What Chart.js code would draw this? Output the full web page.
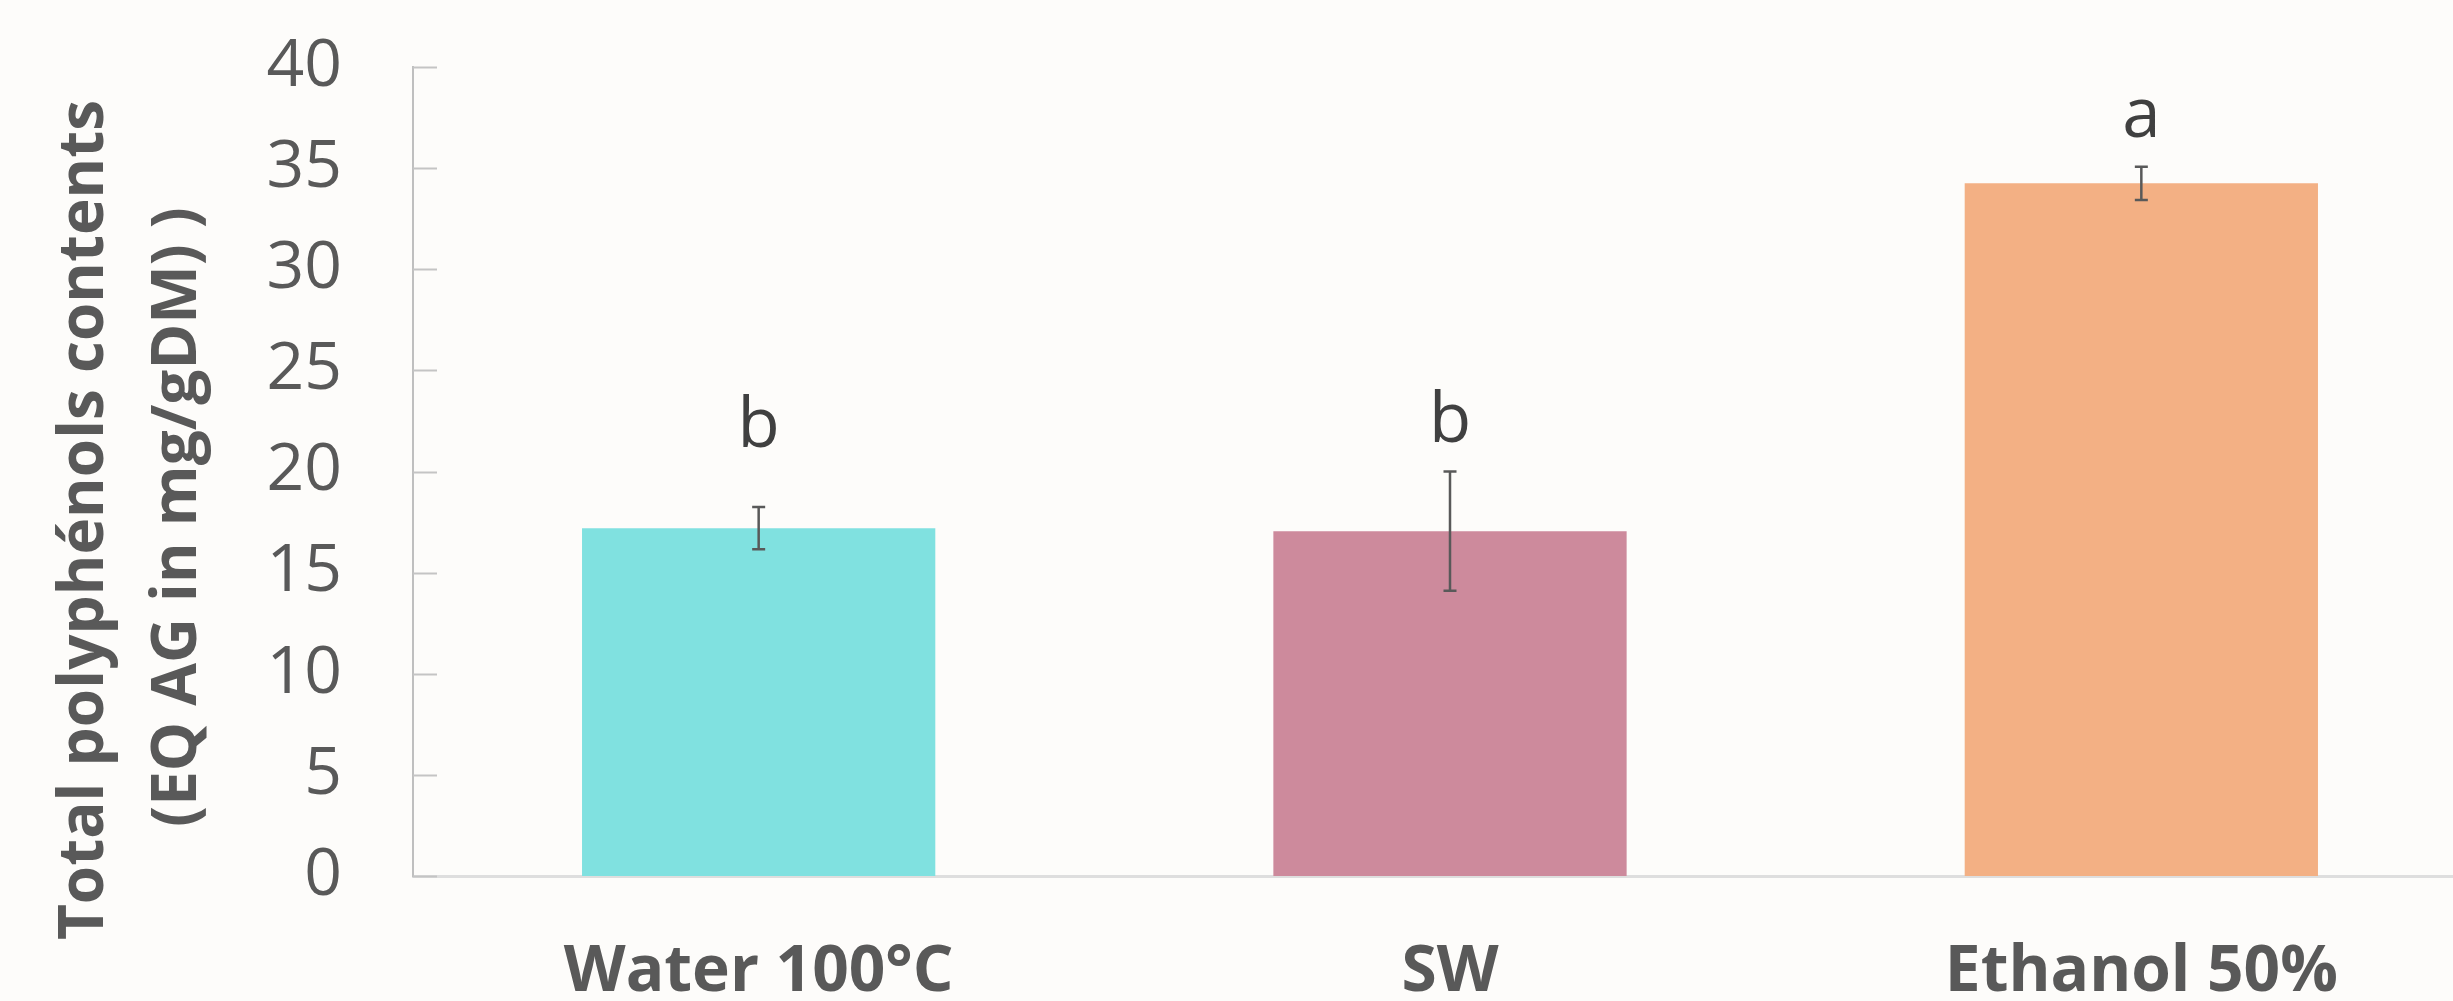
<!DOCTYPE html>
<html>
<head>
<meta charset="utf-8">
<script src="https://cdn.jsdelivr.net/npm/chart.js@4.4.1/dist/chart.umd.min.js"></script>
<style>
  html,body{margin:0;padding:0;background:#fdfcfa;overflow:hidden;}
  #wrap{position:absolute;left:0;top:0;width:2487px;height:1001px;}
</style>
</head>
<body>
<div id="wrap"><canvas id="c"></canvas></div>
<script>
// data
const categories = ['Water 100°C', 'SW', 'Ethanol 50%'];
const means = [17.2, 17.05, 34.25];
const errors = [1.05, 2.95, 0.82];
const letters = ['b', 'b', 'a'];
const letterLevel = [21.2, 21.45, 36.55]; // baseline of the letter, in y units
const barColors = ['#80e1e0', '#cd8a9c', '#f3b084'];
const yTicks = [0, 5, 10, 15, 20, 25, 30, 35, 40];
const titleLines = ['Total polyphénols contents', '(EQ AG in mg/gDM) )'];

const GREY = '#595959';

// short tick marks pointing into the plot, like the original
const innerTicks = {
  id:'innerTicks',
  afterDraw(chart){
    const y=chart.scales.y, ctx=chart.ctx, left=chart.chartArea.left;
    ctx.save();
    ctx.strokeStyle='#c4c4c4';ctx.lineWidth=2;
    yTicks.forEach(v=>{
      const py=Math.round(y.getPixelForValue(v))+0.5;
      ctx.beginPath();ctx.moveTo(left,py);ctx.lineTo(left+24,py);ctx.stroke();
    });
    ctx.restore();
  }
};

const errorBars = {
  id:'errorBars',
  afterDatasetsDraw(chart){
    const meta=chart.getDatasetMeta(0), y=chart.scales.y, ctx=chart.ctx;
    ctx.save();
    ctx.strokeStyle=GREY;ctx.lineWidth=2.5;
    meta.data.forEach((bar,i)=>{
      const top=y.getPixelForValue(means[i]+errors[i]);
      const bot=y.getPixelForValue(means[i]-errors[i]);
      const x=bar.x, cap=6.5;
      ctx.beginPath();
      ctx.moveTo(x,top);ctx.lineTo(x,bot);
      ctx.moveTo(x-cap,top);ctx.lineTo(x+cap,top);
      ctx.moveTo(x-cap,bot);ctx.lineTo(x+cap,bot);
      ctx.stroke();
    });
    ctx.restore();
  }
};

const letterMarks = {
  id:'letterMarks',
  afterDatasetsDraw(chart){
    const meta=chart.getDatasetMeta(0), y=chart.scales.y, ctx=chart.ctx;
    ctx.save();
    ctx.fillStyle='#404040';ctx.font='69px "Open Sans"';
    ctx.textAlign='center';ctx.textBaseline='alphabetic';
    meta.data.forEach((bar,i)=>ctx.fillText(letters[i],bar.x,y.getPixelForValue(letterLevel[i])));
    ctx.restore();
  }
};

// two-line rotated y title, centred a bit lower than the plot like in the source
const yTitle = {
  id:'yTitle',
  afterDraw(chart){
    const ctx=chart.ctx;
    const spots=[[103,520],[196,517]];
    ctx.save();
    ctx.fillStyle=GREY;ctx.font='bold 62px "Open Sans"';
    ctx.textAlign='center';ctx.textBaseline='alphabetic';
    titleLines.forEach((t,i)=>{
      ctx.save();
      ctx.translate(spots[i][0],spots[i][1]);
      ctx.rotate(-Math.PI/2);
      ctx.fillText(t,0,0);
      ctx.restore();
    });
    ctx.restore();
  }
};

new Chart(document.getElementById('c'),{
  type:'bar',
  data:{
    labels:categories,
    datasets:[{
      data:means,
      backgroundColor:barColors,
      borderWidth:0,
      barPercentage:0.511,
      categoryPercentage:1.0
    }]
  },
  options:{
    responsive:true,maintainAspectRatio:false,animation:false,
    layout:{padding:{top:67,left:0,right:0,bottom:0}},
    plugins:{legend:{display:false},tooltip:{enabled:false}},
    scales:{
      x:{
        // invisible tick length gives the label gap without padding the plot
        grid:{display:false,drawTicks:true,tickLength:58},
        border:{display:true,color:'#dedede',width:3},
        ticks:{color:GREY,padding:0,font:{family:'"Open Sans"',size:64,weight:'bold'}},
        afterFit(s){s.height=125;}
      },
      y:{
        min:0,max:40,
        grid:{display:false,drawTicks:true,tickLength:71},
        border:{display:true,color:'#bfbfbf',width:2},
        ticks:{stepSize:5,color:GREY,padding:0,font:{family:'"Open Sans"',size:66}},
        afterFit(s){s.width=413;}
      }
    }
  },
  plugins:[innerTicks,errorBars,letterMarks,yTitle]
});
</script>
</body>
</html>
